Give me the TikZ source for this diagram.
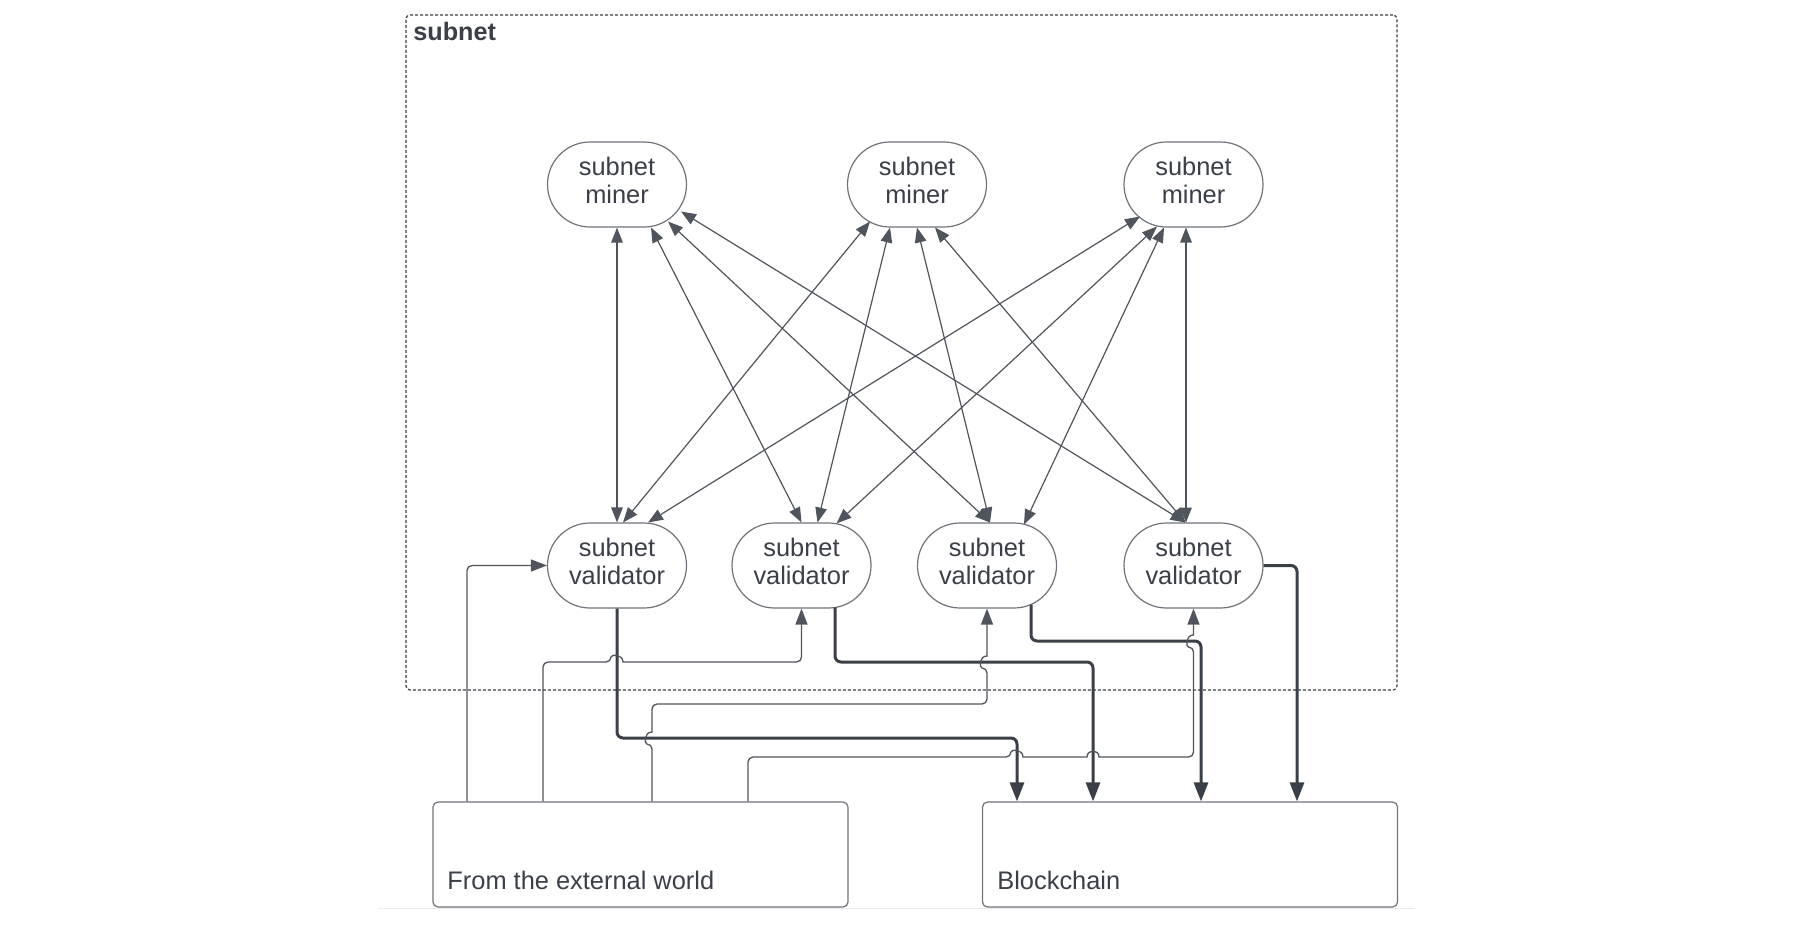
\documentclass[tikz,border=0pt]{standalone}
\usepackage{fontspec}
\setmainfont{Liberation Sans}
\usetikzlibrary{arrows.meta,calc,shapes.misc}
\definecolor{ink}{RGB}{58,63,72}
\definecolor{edge}{RGB}{112,116,122}
\definecolor{wire}{RGB}{80,85,93}
\begin{document}
\begin{tikzpicture}[x=0.5pt,y=-0.5pt,
  agent/.style={draw=edge, line width=0.6pt, shape=rounded rectangle, minimum width=69.5pt, minimum height=42.5pt, align=center, font=\fontsize{12.7}{13.6}\selectfont, text=ink, inner sep=0pt, text height=22pt, text depth=3.5pt},
  bigbox/.style={draw=edge, line width=0.6pt, rounded corners=2.5pt, minimum width=207.5pt, minimum height=52.5pt, inner sep=0pt},
  frame/.style={draw=ink, dash pattern=on 1.5pt off 1pt, line width=0.6pt, rounded corners=2pt, minimum width=495.5pt, minimum height=337.5pt, inner sep=0pt},
  link/.style={draw=wire, line width=0.6pt, {Triangle[length=7.5pt,width=5.8pt]}-{Triangle[length=7.5pt,width=5.8pt]}},
  feed/.style={draw=wire, line width=0.65pt, rounded corners=2.5pt, -{Triangle[length=8pt,width=6pt]}},
  commit/.style={draw=ink, line width=1.5pt, rounded corners=3pt, -{Triangle[length=9.5pt,width=7pt]}},
  lbl/.style={text=ink, font=\fontsize{12.7}{14}\selectfont, anchor=base west, inner sep=0pt}
]
\useasboundingbox (0,0) rectangle (1797,942);
\fill[white] (0,0) rectangle (1797,942);

% faint page edge
\draw[line width=0.5pt, black!8] (378,908) -- (1415,908);

% subnet frame
\node[frame] (subnet) at (901.5,352.5) {};
\node[anchor=base west, inner sep=0pt, font=\bfseries\fontsize{12.6}{14}\selectfont, text=ink] (sublbl) at (413,40) {subnet};

% miners
\node[agent] (m1) at (617,184.5) {subnet\\miner};
\node[agent] (m2) at (917,184.5) {subnet\\miner};
\node[agent] (m3) at (1193.5,184.5) {subnet\\miner};

% validators
\node[agent] (v1) at (617,565.5) {subnet\\validator};
\node[agent] (v2) at (801.5,565.5) {subnet\\validator};
\node[agent] (v3) at (987,565.5) {subnet\\validator};
\node[agent] (v4) at (1193.5,565.5) {subnet\\validator};

% bottom boxes
\node[bigbox] (ext) at (640.5,854.5) {};
\node[bigbox] (bc) at (1190,854.5) {};
\node[lbl] (extlbl) at (447,889) {From the external world};
\node[lbl] (bclbl) at (997,889) {Blockchain};

% miner <-> validator links
\draw[link] (m1.south) -- (v1.north);
\draw[link] ($(m1)+(34,43)$) -- ($(v2)+(0,-43)$);
\draw[link] ($(m1)+(51,37)$) -- ($(v3)+(3,-43)$);
\draw[link] ($(m1)+(64,27)$) -- ($(v4)+(-8,-43)$);
\draw[link] ($(m2)+(-47,37)$) -- ($(v1)+(6,-43)$);
\draw[link] ($(m2)+(-27,43)$) -- ($(v2)+(16,-43)$);
\draw[link] ($(m2)+(0,43)$) -- ($(v3)+(3,-43)$);
\draw[link] ($(m2)+(18,43)$) -- ($(v4)+(-8,-43)$);
\draw[link] ($(m3)+(-53.5,32)$) -- ($(v1)+(31,-43)$);
\draw[link] ($(m3)+(-36.5,42)$) -- ($(v2)+(35,-42)$);
\draw[link] ($(m3)+(-29.5,43)$) -- ($(v3)+(37,-41)$);
\draw[link] ($(m3)+(-7.5,43)$) -- ($(v4)+(-7.5,-43)$);

% validators -> blockchain (thick)
\draw[commit] (v1.south) -- (617,738) -- (1017,738) -- (1017,0 |- bc.north);
\draw[commit] ($(v2)+(33.5,42)$) -- (835,662) -- (1093,662) -- (1093,0 |- bc.north);
\draw[commit] ($(v3)+(44,39)$) -- (1031,641) -- (1201,641) -- (1201,0 |- bc.north);
\draw[commit] (v4.east) -- (1297,565.5) -- (1297,0 |- bc.north);

% external world -> validators (thin, with hops)
\draw[feed] (467,0 |- ext.north) -- (467,565.5) -- (v1.west);
\draw[feed] (543,0 |- ext.north) -- (543,662) -- (611,662) [sharp corners]
  .. controls (611,654) and (623,654) .. (623,662) -- (700,662) [rounded corners=2.5pt]
  -- (801.5,662) -- (v2.south);
\draw[feed] (652,0 |- ext.north) -- (652,744) [sharp corners]
  .. controls (644,744) and (644,732) .. (652,732) -- (652,720) [rounded corners=2.5pt]
  -- (652,704) -- (987,704) -- (987,668) [sharp corners]
  .. controls (979,668) and (979,656) .. (987,656) -- (987,640) [rounded corners=2.5pt]
  -- (v3.south);
\draw[feed] (748,0 |- ext.north) -- (748,757) -- (1011,757) [sharp corners]
  .. controls (1011,749) and (1023,749) .. (1023,757) -- (1087,757)
  .. controls (1087,749) and (1099,749) .. (1099,757) -- (1150,757) [rounded corners=2.5pt]
  -- (1193.5,757) -- (1193.5,647) [sharp corners]
  .. controls (1185.5,647) and (1185.5,635) .. (1193.5,635) -- (1193.5,625) [rounded corners=2.5pt]
  -- (v4.south);
\end{tikzpicture}
\end{document}
